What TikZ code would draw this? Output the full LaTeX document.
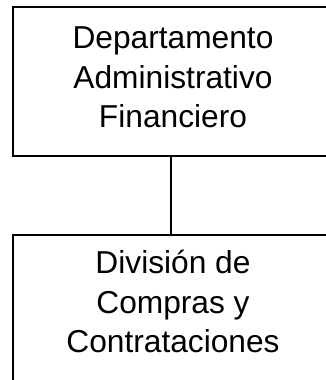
\documentclass[tikz,border=0pt]{standalone}
\usepackage{fontspec}
\setmainfont{Liberation Sans}
\begin{document}
\begin{tikzpicture}[x=1pt,y=-1pt,
  orgbox/.style={draw=black,line width=2pt,minimum width=320pt,inner sep=0pt},
  orgtext/.style={align=center,inner sep=0pt,anchor=south,font=\fontsize{31.7}{39.4}\selectfont},
  link/.style={draw=black,line width=2pt}]
\useasboundingbox (0,0) rectangle (326,380);
\node[orgbox,minimum height=149pt] (top) at (173,81.5) {};
\node[orgbox,minimum height=154pt,anchor=north] (bot) at (173,234) {};
\node[orgtext] (toptxt) at (173,128.3) {Departamento\\Administrativo\\Financiero};
\node[orgtext] (bottxt) at (173,353) {División de\\Compras y\\Contrataciones};
\draw[link] (top.south -| 171,0) coordinate (a) -- (a |- bot.north);
\end{tikzpicture}
\end{document}
